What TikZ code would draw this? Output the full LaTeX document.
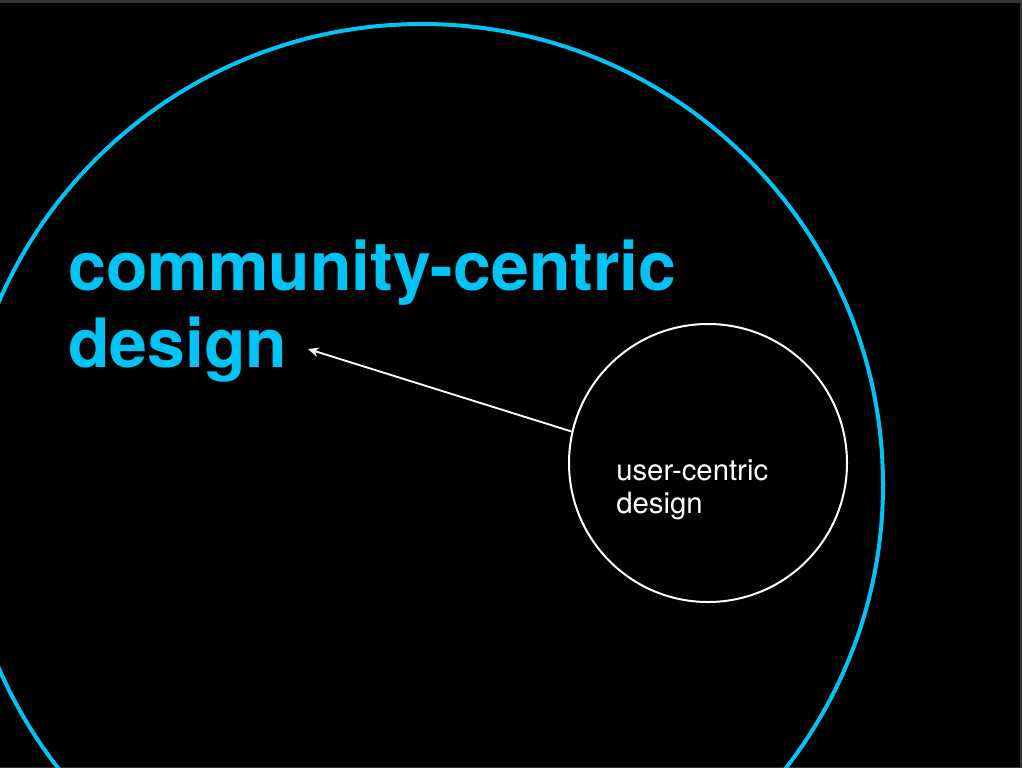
\documentclass[tikz,border=0pt]{standalone}
\usepackage{fontspec}
\setmainfont{TeX Gyre Heros}
\usepackage{tikz}
\usetikzlibrary{positioning,arrows.meta}
\usepackage{xcolor}
\definecolor{skycyan}{RGB}{0,196,245}
\definecolor{frame}{RGB}{52,52,52}

\begin{document}
\begin{tikzpicture}[
    x=0.75pt, y=-0.75pt,
    ring/.style={draw,circle,inner sep=0pt},
    arr/.style={-{Stealth[length=8pt,width=7pt,inset=2.5pt]},line width=1.4pt,white}
  ]
    \fill[frame] (0,0) rectangle (1022,768);
    \fill[black] (0,3) rectangle (1020,767);
    \useasboundingbox (0,0) rectangle (1022,768);
    \begin{scope}
      \clip (0,3) rectangle (1020,767);
      \node[ring, skycyan, line width=3pt, minimum size=691.5pt] (community) at (422,485) {};
    \end{scope}
    \node[ring, white, line width=1.5pt, minimum size=208.5pt] (user) at (708,463) {};

    \node[anchor=base west, inner sep=0pt, align=left, text=skycyan,
          font=\fontsize{51pt}{57.75pt}\selectfont\bfseries] (title) at (68,367)
          {community-centric\\design};
    \node[anchor=base west, inner sep=0pt, align=left, text=white,
          font=\fontsize{22pt}{24.75pt}\selectfont] (ulabel) at (616,513)
          {user-centric\\design};

    \coordinate (tip) at (308,349);
    \draw[arr] (user.167) -- (tip);
  \end{tikzpicture}
\end{document}
